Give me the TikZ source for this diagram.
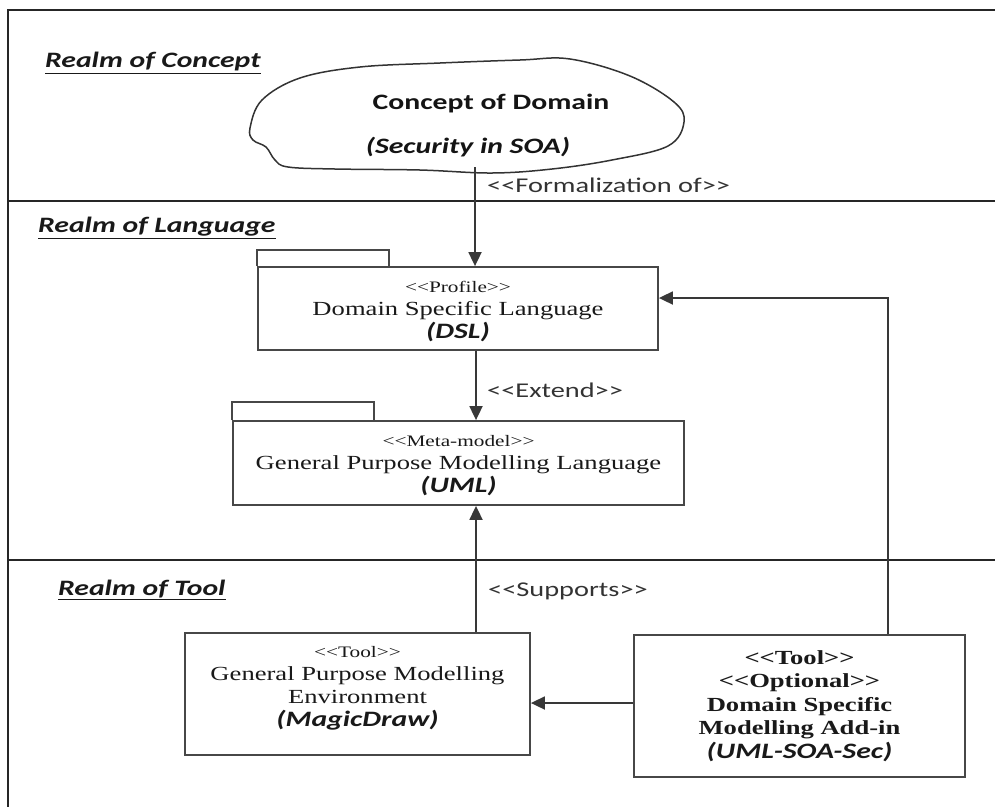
\documentclass[tikz,border=0pt]{standalone}
\usepackage{fontspec}
\usetikzlibrary{arrows.meta}
\newfontfamily\serifw[FakeStretch=1.33]{Liberation Serif}
\newfontfamily\sansw[FakeStretch=1.35]{Carlito}
% guillemet-free stereotype brackets (kerns keep << and >> from being mapped)
\newcommand\stereo[1]{<\kern0pt<#1>\kern0pt>}

\begin{document}
\begin{tikzpicture}[x=1pt,y=-1pt,
  frame/.style={draw=black!85, line width=2.4pt},
  boxline/.style={draw=black!72, line width=1.8pt},
  pkg/.style={boxline, rectangle, align=center, inner sep=0pt,
    font=\serifw\fontsize{20}{23}\selectfont, text=black!90},
  conn/.style={draw=black!78, line width=1.8pt,
    -{Triangle[width=13pt,length=14pt]}},
  realm/.style={anchor=west, inner sep=0pt, text=black!90,
    font=\sansw\bfseries\itshape\fontsize{22}{26}\selectfont},
  stlabel/.style={anchor=west, inner sep=0pt, text=black!80,
    font=\sansw\fontsize{21}{25}\selectfont},
  cloudtext/.style={inner sep=0pt, text=black!92,
    font=\sansw\bfseries\fontsize{22}{26}\selectfont}]
\useasboundingbox (0,0) rectangle (995,807);

% swimlane frame
\draw[frame] (995,10) -- (8,10) -- (8,807);
\draw[frame] (8,201) -- (995,201);
\draw[frame] (8,560) -- (995,560);

% realm titles
\node[realm] (rconcept) at (45,63) {\underline{Realm of Concept}};
\node[realm] (rlang) at (38,228) {\underline{Realm of Language}};
\node[realm] (rtool) at (58,590) {\underline{Realm of Tool}};

% concept cloud
\draw[line width=1.5pt, black!80] plot[smooth cycle, tension=0.6] coordinates {
  (250,128) (262,100) (300,78) (360,67) (440,63) (520,60) (570,59)
  (630,76) (674,102) (684,122) (668,146) (612,160) (552,169) (492,173)
  (420,170) (335,169) (288,167) (275,160) (266,147) (253,140)};
\node[cloudtext] (concept) at (491,104) {Concept of Domain};
\node[cloudtext, font=\sansw\bfseries\itshape\fontsize{22}{26}\selectfont]
  (secsoa) at (468,147) {(Security in SOA)};
\coordinate (cb) at (475,167);

% language packages
\node[pkg, minimum width=400pt, minimum height=83pt] (dsl) at (458,308.5)
  {{\fontsize{16}{18}\selectfont\rule{0pt}{18pt}\stereo{Profile}}\\
   Domain Specific Language\\
   {\sansw\bfseries\itshape\fontsize{22}{24}\selectfont (DSL)}};
\draw[boxline] (dsl.north west) -- ++(0,-16) -- ++(132,0) -- ++(0,16);

\node[pkg, minimum width=451pt, minimum height=84pt] (uml) at (458.5,463)
  {{\fontsize{16}{18}\selectfont\rule{0pt}{17pt}\stereo{Meta-model}}\\
   General Purpose Modelling Language\\
   {\sansw\bfseries\itshape\fontsize{22}{24}\selectfont (UML)}};
\draw[boxline] (uml.north west) -- ++(0,-18) -- ++(142,0) -- ++(0,18);

% tools
\node[pkg, minimum width=345pt, minimum height=122pt] (gpme) at (357.5,694)
  {{\fontsize{16}{18}\selectfont\stereo{Tool}}\\
   General Purpose Modelling\\
   Environment\\
   {\sansw\bfseries\itshape\fontsize{22}{24}\selectfont (MagicDraw)\rule[-16pt]{0pt}{0pt}}};

\node[pkg, minimum width=331pt, minimum height=142pt,
  font=\serifw\bfseries\fontsize{20}{23.5}\selectfont] (addin) at (799.5,706)
  {\stereo{Tool}\\
   \stereo{Optional}\\
   Domain Specific\\
   Modelling Add-in\\
   {\sansw\itshape\fontsize{22}{24}\selectfont (UML-SOA-Sec)}};

% connector guides
\coordinate (ax) at (476,0);
\coordinate (rx) at (888,0);
\coordinate (hy) at (0,703);

% connectors
\draw[conn] (cb) -- (dsl.north -| cb);
\draw[conn] (dsl.south -| ax) -- (uml.north -| ax);
\draw[conn] (gpme.north -| ax) -- (uml.south -| ax);
\draw[conn] (addin.north -| rx) |- ([yshift=10.5pt]dsl.east);
\draw[conn] (addin.west |- hy) -- (gpme.east |- hy);

% stereotype labels on connectors
\node[stlabel] (lform) at (487,185) {\stereo{Formalization of}};
\node[stlabel] (lext) at (487,390) {\stereo{Extend}};
\node[stlabel] (lsup) at (488,591) {\stereo{Supports}};
\end{tikzpicture}
\end{document}
